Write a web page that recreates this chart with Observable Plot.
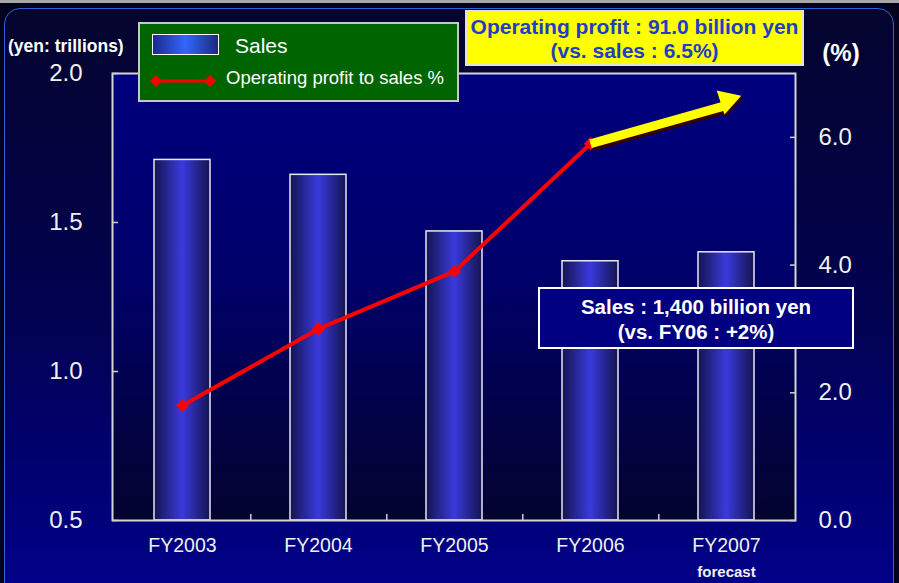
<!DOCTYPE html>
<html>
<head>
<meta charset="utf-8">
<script src="https://cdn.jsdelivr.net/npm/d3@7"></script>
<script src="https://cdn.jsdelivr.net/npm/@observablehq/plot@0.6"></script>
<style>
  html, body { margin: 0; padding: 0; background: #02021a; }
  #wrap { position: relative; width: 899px; height: 583px; overflow: hidden; font-family: "Liberation Sans", Arial, sans-serif; color: #fff; background: #02021c; }
  #topstrip { position: absolute; left: 0; top: 0; width: 899px; height: 3px; background: #a8a8a8; }
  #panel { position: absolute; left: 4px; top: 8px; width: 890px; height: 600px; border-radius: 16px; border: 1.5px solid #2f62d8; box-sizing: border-box;
           background: linear-gradient(to bottom, #04042e 0%, #020250 50%, #00008c 100%); }
  #chart { position: absolute; left: 0; top: 0; }
  .abs { position: absolute; box-sizing: border-box; }
  #legend { left: 138px; top: 22px; width: 321px; height: 80px; background: #006400; border: 2px solid #c8c8c8; }
  #sw { left: 12px; top: 10px; width: 67px; height: 21px; border: 1.5px solid #fff;
        background: linear-gradient(to right, #1a2a8a 0%, #3366ff 50%, #1a2a7a 100%); }
  #swtxt { left: 95px; top: 9px; font-size: 21px; line-height: 26px; color: #fff; }
  #lnsw { left: 10px; top: 49px; }
  #lntxt { left: 86px; top: 43px; font-size: 18.5px; line-height: 22px; color: #fff; white-space: nowrap; }
  #ybox { left: 465px; top: 10px; width: 339px; height: 56px; background: #ffff00; border: 2px solid #e0e0e0; text-align: center;
          color: #1f3ec4; font-weight: bold; font-size: 21px; line-height: 24px; padding-top: 3px; white-space: nowrap; }
  #sbox { left: 538px; top: 287px; width: 316px; height: 62px; background: #000080; border: 2px solid #fff; text-align: center;
          color: #fff; font-weight: bold; font-size: 20.5px; line-height: 25px; padding-top: 5px; white-space: nowrap; }
  #pct { left: 816px; top: 39px; width: 50px; text-align: center; font-weight: bold; font-size: 24px; line-height: 28px; }
  #yen { left: 8px; top: 36px; font-weight: bold; font-size: 17.5px; line-height: 20px; white-space: nowrap; }
</style>
</head>
<body>
<div id="wrap">
  <div id="topstrip"></div>
  <div id="panel"></div>
  <div id="chart"></div>
  <div class="abs" id="yen">(yen: trillions)</div>
  <div class="abs" id="pct">(%)</div>
  <div class="abs" id="legend">
    <div class="abs" id="sw"></div>
    <div class="abs" id="swtxt">Sales</div>
    <svg class="abs" id="lnsw" width="66" height="16">
      <line x1="6" y1="8" x2="60" y2="8" stroke="#ff0000" stroke-width="3"/>
      <path d="M6,2 L12,8 L6,14 L0,8 Z" fill="#ff0000"/>
      <path d="M60,2 L66,8 L60,14 L54,8 Z" fill="#ff0000"/>
    </svg>
    <div class="abs" id="lntxt">Operating profit to sales %</div>
  </div>
  <div class="abs" id="ybox">Operating profit : 91.0 billion yen<br>(vs. sales : 6.5%)</div>
  <div class="abs" id="sbox">Sales : 1,400 billion yen<br>(vs. FY06 : +2%)</div>
</div>
<script>
// ---- data ----
const categories = ["FY2003", "FY2004", "FY2005", "FY2006", "FY2007"];
const sales = [1.71, 1.66, 1.47, 1.37, 1.40];          // yen trillions
const profitPct = [1.8, 3.0, 3.9, 5.9, 6.5];           // operating profit to sales %
const leftTicks = [0.5, 1.0, 1.5, 2.0];
const rightTicks = [0, 2, 4, 6];
const arrowFrom = {cat: "FY2006", pct: 5.9};
const arrowTo = {cat: "FY2007", pct: 6.5};
const arrowHead = {cat: "FY2007", pct: 6.58};

// right axis (0..7 %) mapped onto left axis (0.5..2.0)
const yMin = 0.5, yMax = 2.0, pMax = 7;
const toY = p => yMin + p * (yMax - yMin) / pMax;

const barData = categories.map((c, i) => ({cat: c, v: sales[i]}));
const lineData = categories.map((c, i) => ({cat: c, y: toY(profitPct[i])}));

const W = 899, H = 583;
const mL = 112, mR = 104, mT = 73, mB = 63;
const step = (W - mL - mR) / categories.length;

const chart = Plot.plot({
  width: W, height: H,
  marginLeft: mL, marginRight: mR, marginTop: mT, marginBottom: mB,
  style: {background: "transparent", color: "#f0f0f0", fontFamily: "Liberation Sans, Arial, sans-serif", overflow: "visible"},
  x: {domain: categories, paddingInner: 0.59, paddingOuter: 0.295, axis: null},
  y: {domain: [yMin, yMax], axis: null},
  marks: [
    Plot.frame({fill: "url(#plotGrad)", stroke: "none"}),
    Plot.barY(barData, {x: "cat", y1: () => yMin, y2: "v", fill: "url(#barGrad)", stroke: "#e8e8f0", strokeWidth: 1.5}),
    Plot.frame({stroke: "#d4d4d4", strokeWidth: 2}),
    Plot.ruleX(categories.slice(0, 4), {x: d => d, dx: step / 2, y1: yMin, y2: yMin + 6 * (yMax - yMin) / (H - mT - mB), stroke: "#d0d0d0", strokeWidth: 1.5}),
    Plot.axisY({anchor: "left", ticks: leftTicks, tickFormat: d => d.toFixed(1), tickSize: -6, tickPadding: 36, fontSize: 24, fill: "#f0f0f0", stroke: "#d0d0d0", strokeWidth: 1.5, label: null}),
    Plot.axisY({anchor: "right", ticks: rightTicks.map(toY), tickFormat: d => ((d - yMin) * pMax / (yMax - yMin)).toFixed(1), tickSize: -6, tickPadding: 29, fontSize: 24, fill: "#f0f0f0", stroke: "#d0d0d0", strokeWidth: 1.5, label: null}),
    Plot.axisX({anchor: "bottom", tickSize: 0, tickPadding: 18, fontSize: 19.5, fill: "#f0f0f0", label: null}),
    Plot.text(["forecast"], {x: () => "FY2007", y: () => yMin, dy: 52, fontSize: 15, fontWeight: "bold", fill: "#f0f0f0"}),
    Plot.line(lineData, {x: "cat", y: "y", stroke: "#ff0000", strokeWidth: 4}),
    Plot.dot(lineData, {x: "cat", y: "y", symbol: "diamond2", r: 6, fill: "#ff0000", stroke: "none"}),
    // yellow arrow (shadow + shaft + head)
    Plot.link([0], {x1: () => arrowFrom.cat, y1: () => toY(arrowFrom.pct), x2: () => arrowTo.cat, y2: () => toY(arrowTo.pct), stroke: "#3a0000", strokeWidth: 9, dx: 2, dy: 3}),
    Plot.dot([0], {x: () => arrowHead.cat, y: () => toY(arrowHead.pct), symbol: "triangle2", r: 12, rotate: 72, fill: "#3a0000", dx: 2, dy: 3}),
    Plot.link([0], {x1: () => arrowFrom.cat, y1: () => toY(arrowFrom.pct), x2: () => arrowTo.cat, y2: () => toY(arrowTo.pct), stroke: "#ffff00", strokeWidth: 9}),
    Plot.dot([0], {x: () => arrowHead.cat, y: () => toY(arrowHead.pct), symbol: "triangle2", r: 12, rotate: 72, fill: "#ffff00", dx: 1})
  ]
});

const svg = d3.select(chart);
const defs = svg.insert("defs", ":first-child");
const pg = defs.append("linearGradient").attr("id", "plotGrad").attr("x1", 0).attr("y1", 0).attr("x2", 0).attr("y2", 1);
pg.append("stop").attr("offset", "0%").attr("stop-color", "#00007e");
pg.append("stop").attr("offset", "45%").attr("stop-color", "#00006a");
pg.append("stop").attr("offset", "100%").attr("stop-color", "#03032e");
const bg = defs.append("linearGradient").attr("id", "barGrad").attr("x1", 0).attr("y1", 0).attr("x2", 1).attr("y2", 0);
bg.append("stop").attr("offset", "0%").attr("stop-color", "#141450");
bg.append("stop").attr("offset", "50%").attr("stop-color", "#3a3ade");
bg.append("stop").attr("offset", "100%").attr("stop-color", "#141450");

document.getElementById("chart").appendChild(chart);
</script>
</body>
</html>
